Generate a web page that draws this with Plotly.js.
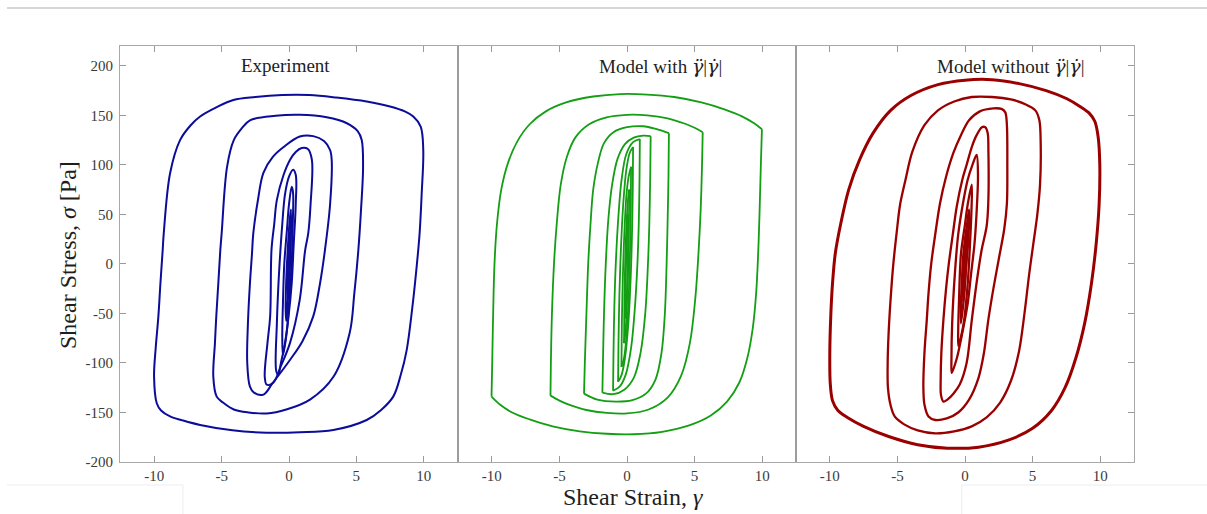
<!DOCTYPE html>
<html>
<head>
<meta charset="utf-8">
<script src="https://cdn.plot.ly/plotly-3.0.1.min.js"></script>
<style>html,body{margin:0;padding:0;background:#fff;}#chart{width:1207px;height:514px;}</style>
</head>
<body>
<div id="chart"></div>
<script>
// ---------- tick labels ----------
const xTickVals = [-10, -5, 0, 5, 10];
const xTickText = ['-10', '-5', '0', '5', '10'];
const yTickVals = [-200, -150, -100, -50, 0, 50, 100, 150, 200];
const yTickText = ['-200', '-150', '-100', '-50', '0', '50', '100', '150', '200'];
const gdd = "<span style='font-family:DejaVu Serif'><i>γ̈</i></span>";
const gd = "<span style='font-family:DejaVu Serif'><i>γ̇</i></span>";
const panelTitles = ['Experiment', 'Model with ' + gdd + '|' + gd + '|', 'Model without ' + gdd + '|' + gd + '|'];

// ---------- Experiment loops (strain, stress) ----------
const e1x = [-9.3, -8.83, -8.09, -7.3, -6.6, -5.4, -4.13, -2.5, -0.5, 1.5, 3.5, 5.77, 7.5, 8.6, 9.23, 9.78, 9.97, 9.85, 9.7, 9.48, 9.15, 8.74, 8.3, 7.74, 6.8, 5.77, 3.29, 0.8, -1.66, -4.2, -6.6, -7.9, -8.83, -9.5, -9.82, -10.02, -9.9, -9.7, -9.55, -9.38, -9.3];
const e1y = [31, 91.6, 125, 140, 148.8, 158, 165.5, 168.5, 170.5, 170.5, 168, 164, 159, 154, 148.8, 138.7, 115, 70, 31, -2.7, -45, -87, -112, -134, -148, -157.6, -167.7, -170, -170.4, -168, -162.6, -158, -154, -148, -140.7, -113.8, -85, -53, -20, 14, 31];
const e2x = [-5.0, -4.6, -4.1, -3.5, -2.9, -1.0, 0.8, 2.8, 4.3, 5.1, 5.4, 5.5, 5.35, 5.15, 4.85, 4.5, 3.3, 1.56, -0.2, -1.65, -3.0, -4.1, -4.9, -5.37, -5.62, -5.5, -5.4, -5.25, -5.1, -5.0];
const e2y = [31, 98, 125, 137, 145, 149.5, 150.5, 148, 142, 134, 125, 98, 55, 14, -30, -70, -114, -137, -147, -151, -150, -147, -140, -134, -114, -80, -53, -20, 14, 31];
const e3x = [-2.65, -2.3, -1.9, -1.2, -0.4, 0.8, 1.8, 2.6, 3.05, 3.17, 3.05, 2.67, 2.3, 1.8, 1.0, 0.07, -1.2, -1.9, -2.6, -2.9, -3.1, -3.05, -2.9, -2.75, -2.65];
const e3y = [31, 65, 92, 108, 118, 128.6, 129, 124, 115, 105, 60, 14, -20, -53, -78, -97, -120, -132, -130, -124, -100, -60, -19.5, 10, 31];
const e4x = [-1.3, -1.1, -0.9, -0.4, 0.07, 0.5, 0.94, 1.4, 1.7, 1.6, 1.43, 1.2, 0.8, 0.07, -0.6, -1.17, -1.65, -1.8, -1.6, -1.4, -1.3];
const e4y = [14, 40, 64.6, 90, 105, 113, 117, 116, 105, 60, 31, 14, -36, -80, -103, -120, -122, -114, -80, -53, 14];
const e5x = [-0.7, -0.5, -0.3, 0.0, 0.3, 0.5, 0.5, 0.35, 0.2, -0.05, -0.3, -0.6, -0.8, -0.95, -0.9, -0.8, -0.7];
const e5y = [0, 40, 70, 88, 95, 90, 60, 20, -20, -55, -80, -100, -112, -108, -60, -25, 0];
const e6x = [-0.35, -0.15, 0.0, 0.2, 0.3, 0.28, 0.2, 0.05, -0.1, -0.3, -0.45, -0.5, -0.45, -0.35];
const e6y = [0, 35, 60, 78, 72, 40, 0, -30, -60, -82, -92, -75, -40, 0];
const e7x = [-0.15, 0.0, 0.08, 0.15, 0.14, 0.05, -0.08, -0.2, -0.25, -0.2, -0.15];
const e7y = [0, 35, 48, 55, 25, -10, -35, -58, -45, -15, 0];
const e8x = [-0.06, 0.02, 0.08, 0.06, -0.04, -0.1, -0.08, -0.06];
const e8y = [0, 25, 33, 10, -20, -35, -15, 0];

// ---------- Model with loops (start and end at the left corner) ----------
const m1x = [-10.02, -9.97, -9.9, -9.8, -9.62, -9.3, -8.8, -8.1, -7.2, -6.0, -4.5, -2.5, -0.5, 1.5, 3.5, 5.5, 7.2, 8.5, 9.4, 9.98, 9.9, 9.8, 9.7, 9.55, 9.3, 8.9, 8.3, 7.4, 6.2, 4.6, 2.6, 0.5, -1.5, -3.5, -5.5, -7.2, -8.5, -9.4, -10.02];
const m1y = [-134, -100, -50, 0, 40, 75, 102, 124, 141, 154, 163, 169, 171.5, 171, 168.5, 163, 156, 149, 142, 136, 100, 50, 10, -30, -65, -95, -120, -139, -153, -163, -169.5, -172, -171.5, -169, -164, -157, -150, -142, -134];
const m2x = [-5.66, -5.63, -5.55, -5.4, -5.2, -4.9, -4.45, -3.8, -2.8, -1.5, 0, 1.5, 3.0, 4.3, 5.0, 5.6, 5.55, 5.45, 5.3, 5.05, 4.65, 4.0, 3.0, 1.6, 0, -1.5, -3.0, -4.3, -5.0, -5.66];
const m2y = [-133, -100, -50, 0, 40, 80, 108, 128, 141, 148, 150.5, 150, 147, 141.5, 137.5, 133, 100, 55, 14, -35, -80, -113, -135, -147, -151, -150.5, -147.5, -142, -138, -133];
const m3x = [-3.18, -3.12, -3.0, -2.87, -2.7, -2.5, -2.15, -1.7, -1.0, 0, 1.2, 2.2, 3.1, 3.07, 3.0, 2.93, 2.8, 2.55, 2.1, 1.4, 0.4, -0.8, -2.2, -3.18];
const m3y = [-131, -100, -50, 0, 40, 75, 102, 122, 133, 138, 139, 136, 132, 90, 40, 0, -50, -90, -117, -131, -137.5, -139, -137, -131];
const m4x = [-1.82, -1.78, -1.7, -1.57, -1.38, -1.1, -0.7, -0.15, 0.5, 1.2, 1.75, 1.72, 1.65, 1.55, 1.35, 1.0, 0.5, -0.2, -1.0, -1.82];
const m4y = [-130, -100, -50, 0, 45, 80, 106, 121, 127.5, 129.5, 129, 90, 40, 0, -50, -90, -115, -127, -131.5, -130];
const m5x = [-1.03, -1.0, -0.93, -0.83, -0.65, -0.4, -0.05, 0.45, 0.95, 0.93, 0.87, 0.77, 0.58, 0.3, -0.1, -0.55, -1.03];
const m5y = [-128, -90, -40, 0, 45, 85, 111, 123, 126, 90, 40, 0, -45, -85, -112, -124, -128];
const m6x = [-0.66, -0.63, -0.56, -0.45, -0.28, -0.05, 0.2, 0.45, 0.43, 0.37, 0.27, 0.1, -0.15, -0.4, -0.66];
const m6y = [-119, -80, -30, 15, 60, 95, 112, 118, 80, 30, -15, -60, -95, -112, -119];
const m7x = [-0.41, -0.38, -0.31, -0.2, -0.05, 0.12, 0.3, 0.28, 0.22, 0.12, -0.05, -0.22, -0.41];
const m7y = [-104, -60, -15, 30, 68, 88, 98, 55, 10, -35, -75, -95, -104];
const m8x = [-0.22, -0.19, -0.12, -0.02, 0.08, 0.16, 0.14, 0.08, -0.02, -0.12, -0.22];
const m8y = [-80, -35, 10, 45, 66, 75, 35, -5, -45, -70, -80];
const m9x = [-0.12, -0.09, -0.03, 0.04, 0.09, 0.07, 0.02, -0.05, -0.12];
const m9y = [-55, -15, 20, 40, 50, 15, -20, -42, -55];

// ---------- Model without loops ----------
const r1x = [-9.8, -9.6, -9.2, -8.6, -7.8, -6.8, -5.5, -4.0, -2.0, 0.0, 2.0, 4.0, 6.0, 7.5, 8.5, 9.2, 9.6, 9.85, 9.97, 9.92, 9.7, 9.35, 8.85, 8.2, 7.4, 6.4, 5.0, 3.2, 1.0, -1.3, -3.5, -5.7, -7.5, -8.7, -9.4, -9.8, -9.97, -10.0, -9.92, -9.8];
const r1y = [-20, 10, 40, 75, 105, 132, 155, 170, 181, 185.5, 186, 182, 175, 167, 159, 152, 144, 128, 100, 60, 20, -20, -60, -95, -125, -148, -166, -178, -185, -186, -182.5, -174, -164, -155, -148, -138, -120, -90, -50, -20];
const r2x = [-5.3, -5.05, -4.8, -4.4, -3.9, -3.0, -2.0, -0.8, 0.5, 2.0, 3.4, 4.5, 5.2, 5.5, 5.6, 5.55, 5.35, 5.05, 4.75, 4.4, 4.0, 3.4, 2.6, 1.6, 0.5, -0.8, -2.2, -3.5, -4.5, -5.2, -5.5, -5.7, -5.72, -5.65, -5.5, -5.3];
const r2y = [0, 32, 60, 85, 113, 140, 155, 164, 168.5, 168.5, 166, 161, 155, 145, 120, 80, 50, 20, -10, -50, -88, -118, -140, -155, -164, -169, -171, -168, -162, -154, -143, -125, -100, -70, -35, 0];
const r3x = [-2.5, -2.2, -1.85, -1.4, -0.86, -0.3, 0.3, 1.1, 2.1, 2.7, 2.98, 3.1, 3.13, 3.1, 2.9, 2.5, 2.1, 1.72, 1.4, 1.0, 0.3, -0.5, -1.35, -2.2, -2.7, -3.0, -3.08, -3.0, -2.83, -2.7, -2.5];
const r3y = [0, 30, 61, 88, 112, 130, 145, 154, 157, 156.5, 153, 140, 100, 61, 35, 5, -25, -57, -90, -115, -137, -150, -156, -157.6, -154, -142, -124, -90, -57, -30, 0];
const r4x = [-1.2, -0.9, -0.61, -0.2, 0.12, 0.5, 0.86, 1.25, 1.5, 1.68, 1.73, 1.72, 1.6, 1.23, 0.9, 0.5, 0.12, -0.4, -0.86, -1.3, -1.6, -1.78, -1.8, -1.75, -1.6, -1.4, -1.2];
const r4y = [0, 30, 58, 85, 100, 118, 130, 138, 138, 132, 115, 61, 38, 14, -15, -57, -100, -122, -131, -137, -139, -132, -118, -90, -57, -25, 0];
const r5x = [-0.5, -0.1, 0.2, 0.55, 0.86, 0.96, 0.85, 0.7, 0.45, 0.2, -0.25, -0.6, -0.98, -1.0, -0.95, -0.75, -0.5];
const r5y = [30, 65, 85, 100, 110, 90, 50, 20, -10, -40, -73, -95, -110, -95, -60, -10, 30];
const r6x = [-0.3, 0.0, 0.2, 0.5, 0.48, 0.35, 0.2, -0.1, -0.49, -0.5, -0.45, -0.3];
const r6y = [10, 40, 60, 80, 55, 15, -20, -60, -83, -65, -40, 10];
const r7x = [-0.15, 0.0, 0.15, 0.3, 0.25, 0.1, -0.05, -0.3, -0.3, -0.22, -0.15];
const r7y = [5, 25, 40, 55, 25, 0, -30, -60, -40, -15, 5];
const r8x = [-0.08, 0.05, 0.15, 0.1, -0.05, -0.15, -0.12, -0.08];
const r8y = [0, 20, 35, 5, -25, -38, -15, 0];

// ---------- build traces ----------
const blue = '#0b0c9a', green = '#139e13', red = '#9a0000';
const panels = [
  {loops: [[e1x,e1y],[e2x,e2y],[e3x,e3y],[e4x,e4y],[e5x,e5y],[e6x,e6y],[e7x,e7y],[e8x,e8y]], color: blue, xa: 'x', ya: 'y', w: 2, split: false, sm: 1},
  {loops: [[m1x,m1y],[m2x,m2y],[m3x,m3y],[m4x,m4y],[m5x,m5y],[m6x,m6y],[m7x,m7y],[m8x,m8y],[m9x,m9y]], color: green, xa: 'x2', ya: 'y2', w: 1.8, split: true, sm: 1},
  {loops: [[r1x,r1y],[r2x,r2y],[r3x,r3y],[r4x,r4y],[r5x,r5y],[r6x,r6y],[r7x,r7y],[r8x,r8y]], color: red, xa: 'x3', ya: 'y3', w: 2.3, split: false, sm: 0.9}
];
const traces = [];
function addLine(p, xs, ys, w) {
  traces.push({type: 'scatter', mode: 'lines', x: xs, y: ys, xaxis: p.xa, yaxis: p.ya, hoverinfo: 'skip',
    line: {color: p.color, width: w, shape: 'spline', smoothing: p.sm}});
}
panels.forEach(p => {
  p.loops.forEach((l, i) => {
    const w = (i === 0 && p.color === red) ? 3 : p.w;
    if (p.split) {
      // sharp corners: split the loop at its right-most point (the strain reversal)
      let k = 0;
      l[0].forEach((v, j) => { if (v > l[0][k]) k = j; });
      addLine(p, l[0].slice(0, k + 1), l[1].slice(0, k + 1), w);
      addLine(p, l[0].slice(k), l[1].slice(k), w);
    } else {
      addLine(p, l[0], l[1], w);
    }
  });
});

const serif = 'Liberation Serif, Times New Roman, serif';
const tickFont = {family: serif, size: 15, color: '#3a3a3a'};
function xAxis(dom, anchor, rng) {
  return {domain: dom, anchor: anchor, range: rng, tickvals: xTickVals, ticktext: xTickText,
    ticks: 'inside', ticklen: 6, tickcolor: '#9a9a9a', tickwidth: 1,
    showline: true, linecolor: '#a8a8a8', linewidth: 1, mirror: 'ticks',
    showgrid: false, zeroline: false, tickfont: tickFont, ticklabelstandoff: 0, fixedrange: true};
}
const layout = {
  width: 1207, height: 514,
  margin: {l: 120, r: 73, t: 46, b: 52, pad: 0},
  paper_bgcolor: '#ffffff', plot_bgcolor: '#ffffff',
  showlegend: false,
  xaxis: xAxis([0, 1/3], 'y', [-12.55, 12.55]),
  xaxis2: xAxis([1/3, 2/3], 'y2', [-12.5, 12.5]),
  xaxis3: xAxis([2/3, 1], 'y3', [-12.5, 12.5]),
  yaxis: {domain: [0, 1], anchor: 'x', range: [-200, 220], tickvals: yTickVals, ticktext: yTickText,
    ticks: 'inside', ticklen: 6, tickcolor: '#9a9a9a', showline: true, linecolor: '#a8a8a8', linewidth: 1,
    mirror: false, showgrid: false, zeroline: false, tickfont: tickFont, ticklabelstandoff: 3, fixedrange: true},
  yaxis2: {domain: [0, 1], anchor: 'x2', range: [-200, 220], showticklabels: false, ticks: '',
    showline: false, showgrid: false, zeroline: false, fixedrange: true},
  yaxis3: {domain: [0, 1], anchor: 'x3', side: 'right', range: [-200, 220], tickvals: yTickVals,
    showticklabels: false, ticks: 'inside', ticklen: 6, tickcolor: '#9a9a9a', showline: true,
    linecolor: '#a8a8a8', linewidth: 1, mirror: false, showgrid: false, zeroline: false, fixedrange: true},
  shapes: [
    {type: 'line', xref: 'paper', yref: 'paper', x0: 1/3, x1: 1/3, y0: 0, y1: 1, line: {color: '#9c9c9c', width: 2}},
    {type: 'line', xref: 'paper', yref: 'paper', x0: 2/3, x1: 2/3, y0: 0, y1: 1, line: {color: '#9c9c9c', width: 2}},
    {type: 'line', xref: 'paper', yref: 'paper', x0: -0.1114, x1: 1.072, y0: 1.0913, y1: 1.0913, line: {color: '#c8c8c8', width: 1.5}},
    {type: 'line', xref: 'paper', yref: 'paper', x0: -0.1114, x1: 0.0621, y0: -0.0553, y1: -0.0553, line: {color: '#ededed', width: 1}},
    {type: 'line', xref: 'paper', yref: 'paper', x0: 0.0621, x1: 0.0621, y0: -0.0553, y1: -0.13, line: {color: '#ededed', width: 1}},
    {type: 'line', xref: 'paper', yref: 'paper', x0: 0.8301, x1: 1.072, y0: -0.0553, y1: -0.0553, line: {color: '#ededed', width: 1}},
    {type: 'line', xref: 'paper', yref: 'paper', x0: 0.8301, x1: 0.8301, y0: -0.0553, y1: -0.13, line: {color: '#ededed', width: 1}}
  ],
  annotations: [
    {text: panelTitles[0], xref: 'paper', yref: 'paper', x: 0.1637, y: 0.952, xanchor: 'center', yanchor: 'middle', showarrow: false, font: {family: serif, size: 19, color: '#1e1e1e'}},
    {text: panelTitles[1], xref: 'paper', yref: 'paper', x: 0.5335, y: 0.952, xanchor: 'center', yanchor: 'middle', showarrow: false, font: {family: serif, size: 19, color: '#1e1e1e'}},
    {text: panelTitles[2], xref: 'paper', yref: 'paper', x: 0.879, y: 0.952, xanchor: 'center', yanchor: 'middle', showarrow: false, font: {family: serif, size: 19, color: '#1e1e1e'}},
    {text: 'Shear Strain, <i>γ</i>', xref: 'paper', yref: 'paper', x: 0.506, y: -0.084, xanchor: 'center', yanchor: 'middle', showarrow: false, font: {family: serif, size: 24, color: '#1e1e1e'}},
    {text: 'Shear Stress, <i>σ</i> [Pa]', xref: 'paper', yref: 'paper', x: -0.0513, y: 0.4976, xanchor: 'center', yanchor: 'middle', textangle: -90, showarrow: false, font: {family: serif, size: 24, color: '#1e1e1e'}}
  ]
};
Plotly.newPlot('chart', traces, layout, {displayModeBar: false, staticPlot: true});
</script>
</body>
</html>
